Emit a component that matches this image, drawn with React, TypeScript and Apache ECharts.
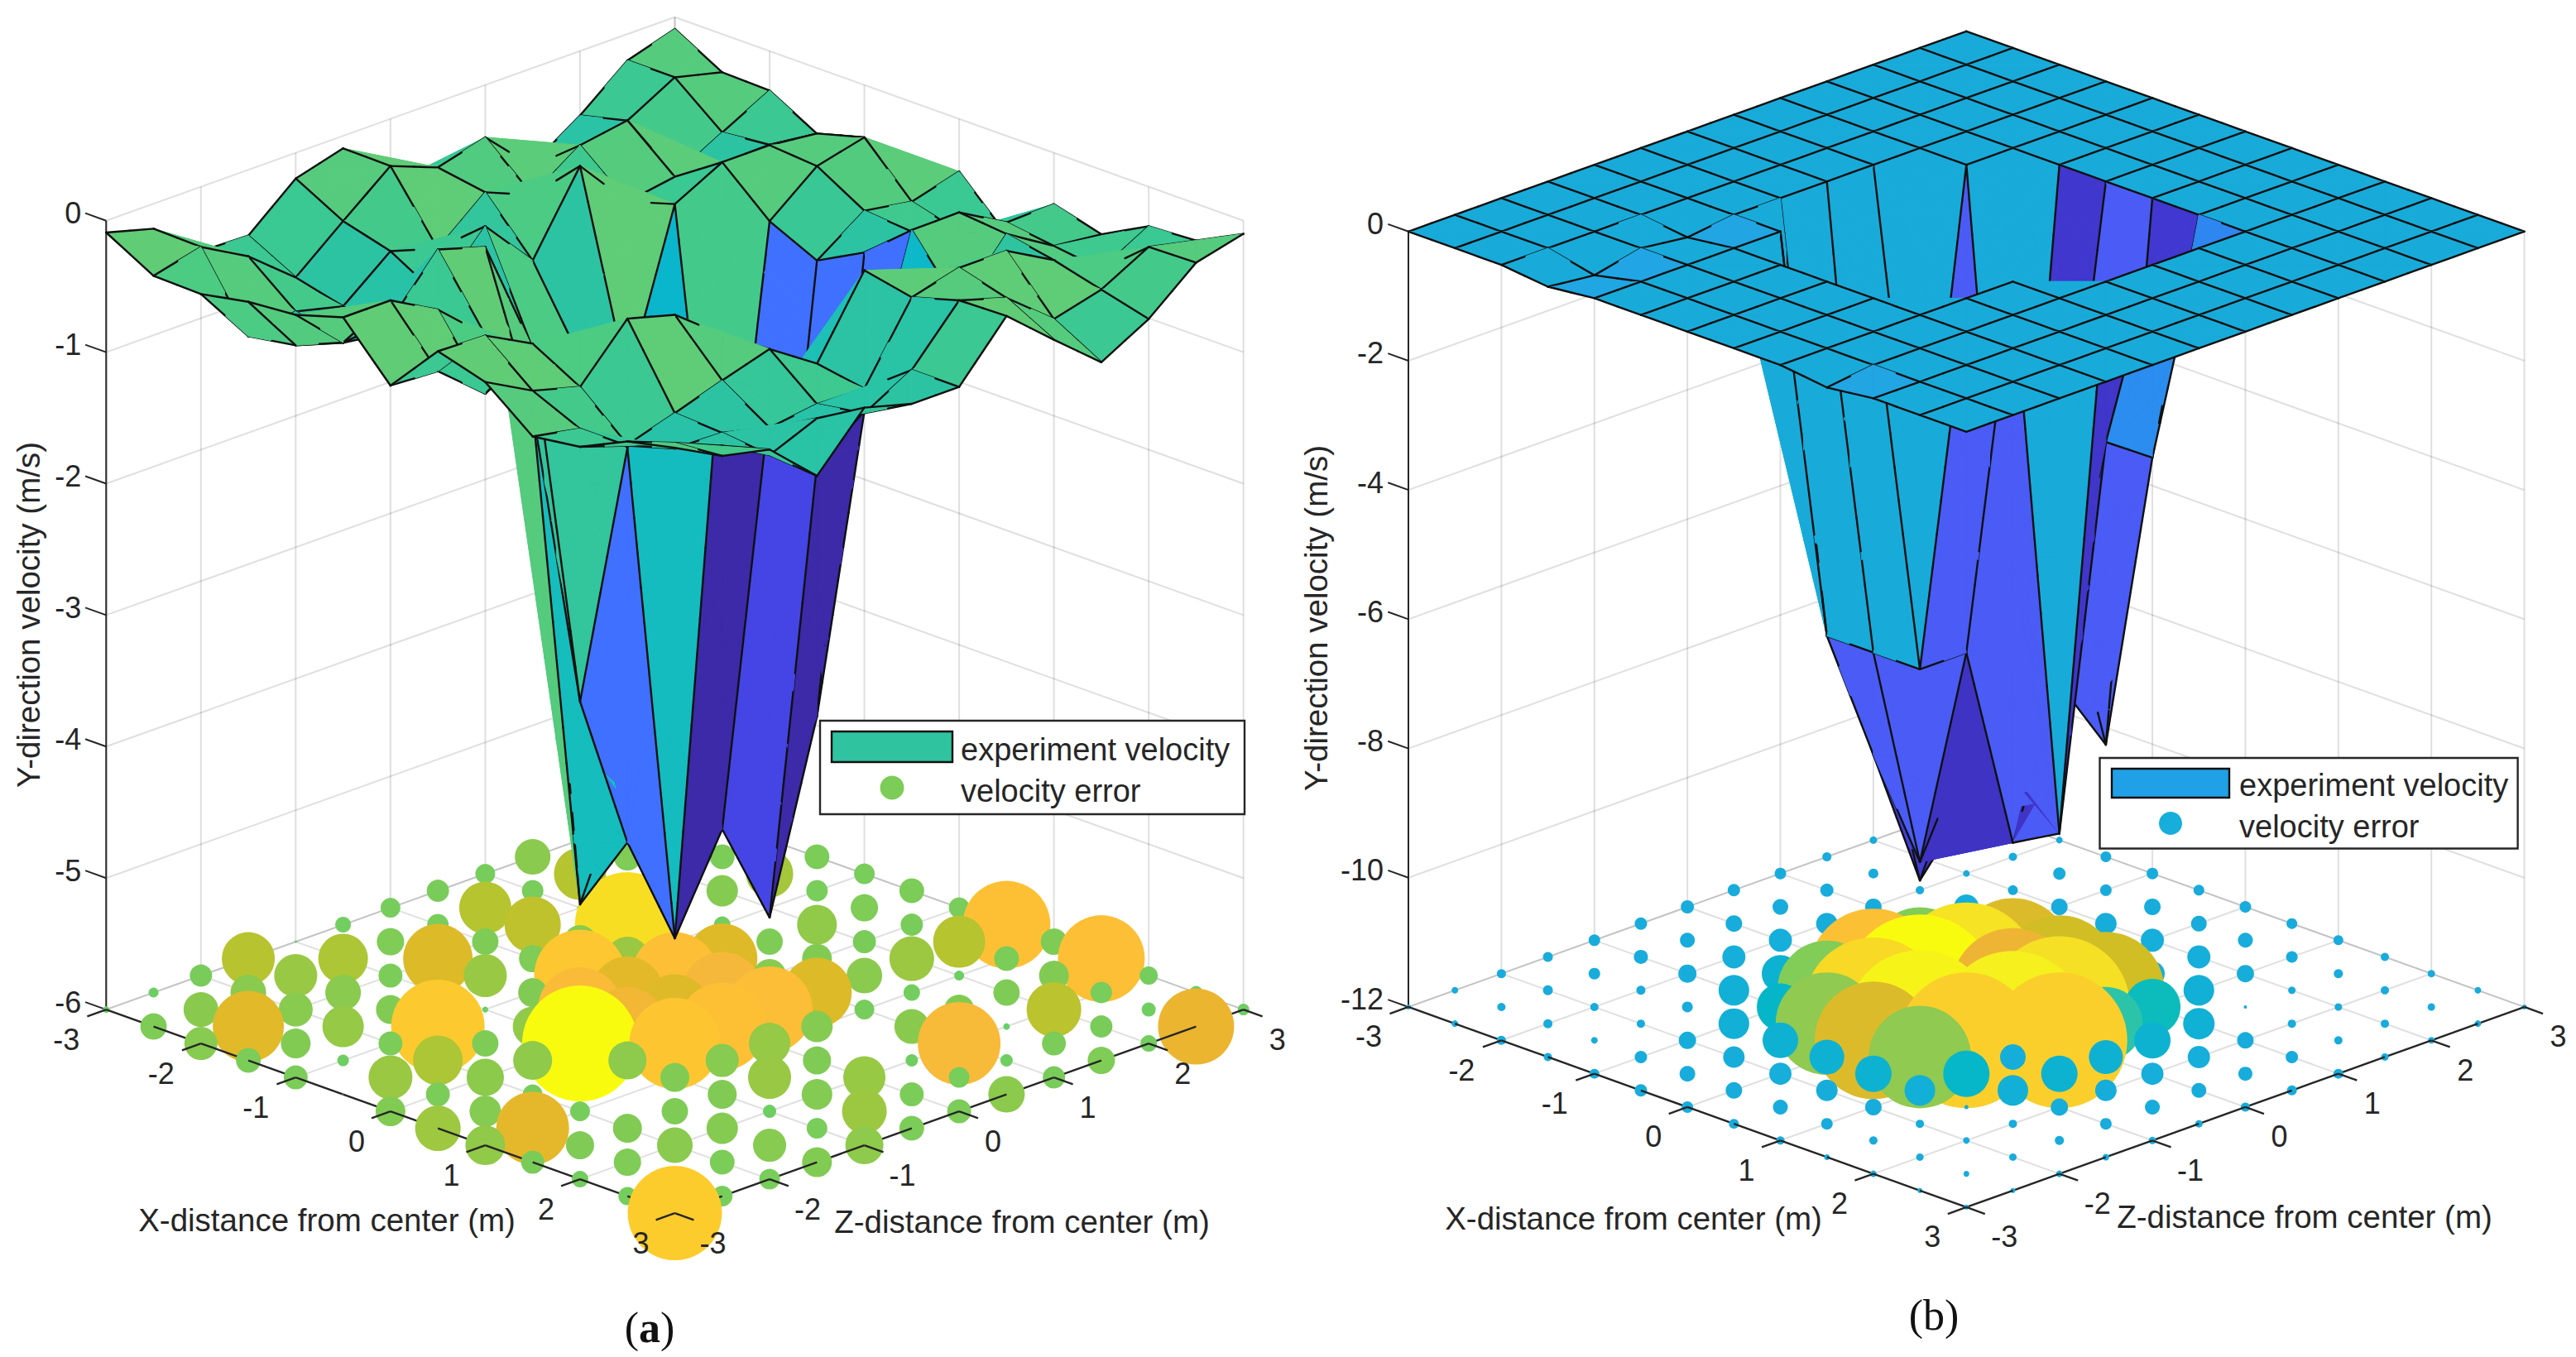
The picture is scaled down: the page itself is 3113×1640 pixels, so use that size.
import React, { useEffect, useRef } from "react";
import * as echarts from "echarts";

const FONT = '"Liberation Sans", Arial, sans-serif';
const INK = "#262626";

// ---- axis ticks ----
const horizontalTicks = [-3, -2, -1, 0, 1, 2, 3];
const verticalTicksA = [0, -1, -2, -3, -4, -5, -6];
const verticalTicksB = [0, -2, -4, -6, -8, -10, -12];
const gridCoords = [-3, -2.5, -2, -1.5, -1, -0.5, 0, 0.5, 1, 1.5, 2, 2.5, 3];

// ---- surface (a): Y velocity, rows = X index, columns = Z index ----
const velocityA = [
  [-0.09, -0.19, -0.49, -0.5, -0.195, -0.095, -0.5, -0.55, -0.55, -0.73, -0.49, -0.2, -0.09],
  [-0.29, -0.2, -0.4, -0.69, -0.39, -0.1, -0.24, -0.14, -0.49, -0.62, -0.4, -0.2, -0.29],
  [-0.3, -0.75, -0.69, -0.78, -0.49, -0.6, -0.3, -0.45, -0.2, -0.14, -0.69, -0.49, -0.3],
  [-0.23, -0.69, -0.8, -0.85, -0.7, -0.3, -0.69, -0.1, -0.5, -0.44, -0.46, -0.455, -0.5],
  [-0.2, -0.54, -0.5, -0.09, -0.2, -1.1, -1.3, -1.6, -0.39, -0.2, -0.2, -0.24, -0.4],
  [-0.09, -0.09, -0.29, -0.61, -1.31, -5.2, -4.3, -4.4, -3.5, -0.52, -0.23, -0.14, -0.76],
  [-0.48, -0.5, -0.8, -0.6, -3.4, -4.6, -4.5, -4.5, -4.0, -0.69, -0.44, -0.5, -0.4],
  [-0.09, -0.1, -0.29, -0.9, -1.34, -5.2, -4.5, -5.3, -3.9, -0.5, -0.47, -0.6, -0.75],
  [-0.195, -0.39, -0.49, -0.1, -0.2, -0.48, -1.14, -1.72, -1.45, -0.2, -0.195, -0.4, -0.39],
  [-0.48, -0.55, -0.8, -0.69, -0.57, -0.46, -0.7, -0.12, -0.3, -0.65, -0.23, -0.45, -0.49],
  [-0.43, -0.55, -0.7, -0.71, -0.8, -0.75, -0.76, -0.195, -0.1, -0.1, -0.3, -0.5, -0.3],
  [-0.26, -0.4, -0.55, -0.75, -0.6, -0.69, -0.49, -0.09, -0.2, -0.49, -0.395, -0.2, -0.28],
  [-0.18, -0.37, -0.45, -0.78, -0.39, -0.49, -0.49, -0.08, -0.39, -0.69, -0.49, -0.19, -0.1],
];

// ---- surface (b) ----
const velocityB = [
  [0, 0, 0, 0, 0, 0, 0, 0, 0, 0, 0, 0, 0],
  [0, 0, 0, 0, 0, 0, 0, 0, 0, 0, 0, 0, 0],
  [0, 0, 0, 0, 0, 0, 0, 0, 0, 0, 0, 0, 0],
  [-0.08, -0.16, 0, -0.09, 0, 0, 0, 0, 0, 0, 0, 0, 0],
  [0, 0, 0, 0, 0, -6.3, -7.6, -5.9, 0, 0, 0, 0, 0],
  [0, 0, 0, 0, -6, -8.1, -10.3, -9.4, -8.4, 0, 0, 0, 0],
  [0, 0, 0, 0, -6, -9.5, -8, -9.0, -5.6, 0, 0, 0, 0],
  [0, 0, 0, 0, -6, -6, -9.2, -7, -8.2, 0, 0, 0, 0],
  [0, 0, 0, 0, 0, 0, -8.8, -3, -3.5, 0, 0, 0, 0],
  [-0.09, 0, 0, 0, 0, 0, 0, 0, 0, 0, 0, 0, 0],
  [0, 0, 0, 0, 0, 0, 0, 0, 0, 0, 0, 0, 0],
  [0, 0, 0, 0, 0, 0, 0, 0, 0, 0, 0, 0, 0],
  [0, 0, 0, 0, 0, 0, 0, 0, 0, 0, 0, 0, 0],
];

// quads whose fold runs through their lowest-index corner instead of the higher diagonal
const cornerFoldA = ["4,4"];
const cornerFoldB = ["4,3", "6,5"];

// ---- velocity error (a): one list per screen column, back to front ----
const errorColumnsA = [
  [8],
  [12, 32],
  [27, 42, 40],
  [64, 43, 86, 30],
  [3, 52, 41, 36, 29],
  [19, 60, 43, 50, 14, 2],
  [24, 33, 29, 35, 29, 53, 36],
  [27, 26, 84, 30, 113, 60, 29, 55],
  [24, 63, 32, 52, 7, 32, 45, 38, 48],
  [43, 26, 68, 33, 35, 48, 47, 24, 88, 28],
  [20, 63, 7, 40, 111, 102, 140, 1, 24, 34, 20],
  [15, 33, 20, 127, 53, 87, 95, 46, 1, 35, 33, 22],
  [10, 15, 15, 15, 20, 105, 85, 110, 35, 32, 43, 20, 114],
  [10, 30, 38, 20, 85, 98, 106, 40, 35, 38, 30, 25],
  [20, 57, 8, 32, 40, 104, 50, 52, 16, 40, 25],
  [30, 26, 48, 36, 84, 38, 34, 37, 25, 36],
  [25, 33, 28, 43, 24, 1, 51, 54, 46],
  [30, 27, 54, 20, 42, 15, 29, 30],
  [25, 63, 12, 36, 100, 25, 29],
  [106, 30, 32, 8, 15, 44],
  [32, 36, 66, 29, 27],
  [105, 26, 27, 33],
  [22, 17, 20],
  [16, 92],
  [14],
];

// ---- velocity error (b) ----
const errorColumnsB = [
  [6],
  [8, 8],
  [11, 10, 11],
  [12, 12, 11, 10],
  [14, 14, 10, 8, 12],
  [15, 17, 11, 10, 15, 15],
  [16, 18, 22, 13, 21, 19, 14],
  [15, 20, 28, 37, 37, 26, 20, 12],
  [14, 19, 28, 45, 57, 43, 27, 18, 10],
  [11, 16, 26, 40, 120, 124, 42, 26, 14, 7],
  [9, 12, 20, 40, 157, 168, 142, 44, 20, 10, 8],
  [8, 9, 10, 30, 120, 183, 178, 124, 37, 10, 9, 6],
  [6, 8, 8, 30, 80, 172, 60, 164, 56, 5, 8, 7, 6],
  [8, 10, 12, 40, 142, 150, 176, 31, 37, 10, 9, 6],
  [8, 15, 20, 40, 141, 171, 164, 44, 21, 11, 8],
  [13, 14, 26, 40, 141, 89, 41, 26, 14, 8],
  [14, 20, 28, 30, 68, 44, 27, 18, 9],
  [13, 19, 28, 37, 38, 27, 18, 9],
  [14, 18, 21, 4, 20, 17, 11],
  [13, 14, 9, 10, 15, 12],
  [12, 11, 9, 10, 12],
  [10, 10, 10, 9],
  [9, 9, 8],
  [8, 8],
  [6],
];

// ---- colour scales (value -> colour) ----
const surfaceScaleA: [number, string][] = [
  [-5.4, "#3c2aa8"], [-5.1, "#3c2aa8"], [-4.8, "#4545e5"], [-4.45, "#4545e5"], [-4.2, "#4070ff"], [-3.2, "#4070ff"],
  [-2.2, "#0ab6cc"], [-1.5, "#0ab6cc"], [-1.25, "#19bfb8"], [-0.7, "#2bc3a4"], [-0.45, "#3ec98f"], [-0.25, "#50cb80"], [-0.05, "#64cc74"],
];
const surfaceScaleB: [number, string][] = [
  [-10.4, "#3f30bc"], [-8.15, "#4038d0"], [-7.9, "#4a5cf5"], [-4.5, "#4a5cf5"], [-3.4, "#2b8af0"], [-0.2, "#22a4e4"], [-0.05, "#20a6e3"], [-0.01, "#18abd9"], [0, "#18abd9"],
];
const errorScaleA: [number, string][] = [
  [1, "#62d06c"], [30, "#7ccc58"], [45, "#8cca4c"], [55, "#9ec840"], [63, "#b5c42f"], [85, "#dfba28"], [92, "#ecb530"],
  [98, "#f6b83a"], [106, "#fdc035"], [115, "#fccd2c"], [125, "#f8d925"], [140, "#f9fb0e"],
];
const errorScaleB: [number, string][] = [
  [4, "#19aadc"], [30, "#16aedb"], [45, "#0db2d0"], [57, "#05b6c8"], [68, "#0cbcbc"], [89, "#2cc4a8"], [120, "#82cc58"], [124, "#90ca50"],
  [141, "#d0be24"], [142, "#dcbb2a"], [150, "#eeb535"], [157, "#fcc034"], [164, "#fbcf2b"], [168, "#f8d925"], [171, "#f5e025"], [176, "#f5f01e"], [183, "#f9fb0e"],
];

function colorAt(scale: [number, string][], value: number) {
  if (value <= scale[0][0]) return scale[0][1];
  for (let k = 1; k < scale.length; k++) {
    if (value <= scale[k][0]) {
      const [a, ca] = scale[k - 1];
      const [b, cb] = scale[k];
      const t = (value - a) / (b - a || 1);
      const parse = (c: string) => [1, 3, 5].map((p) => parseInt(c.slice(p, p + 2), 16));
      const pa = parse(ca);
      const pb = parse(cb);
      return `rgb(${pa.map((v, q) => Math.round(v + (pb[q] - v) * t)).join(",")})`;
    }
  }
  return scale[scale.length - 1][1];
}

function columnsToGrid(cols: number[][]) {
  const g = gridCoords.map(() => gridCoords.map(() => 0));
  cols.forEach((col, n) => {
    const m = Math.min(n, 24 - n);
    col.forEach((val, k) => {
      const d = -m + 2 * k;
      g[(n + d) / 2][(n - d) / 2] = val;
    });
  });
  return g;
}

type Plot = {
  gridIndex: number; left: number; top: number; width: number; A: number; B: number;
  vMin: number; vTicks: number[]; velocity: number[][]; errors: number[][]; cornerFold: string[];
  surfaceScale: [number, string][]; errorScale: [number, string][];
  depthD: number; depthV: number;
};

const plots: Plot[] = [
  { gridIndex: 0, left: 128.3, top: 20.7, width: 1374.4, A: 41, B: 158.9, vMin: -6, vTicks: verticalTicksA, cornerFold: cornerFoldA,
    velocity: velocityA, errors: columnsToGrid(errorColumnsA), surfaceScale: surfaceScaleA, errorScale: errorScaleA, depthD: 53.5, depthV: 60.9 },
  { gridIndex: 1, left: 1702, top: 37.8, width: 1348.6, A: 40.33, B: 78.1, vMin: -12, vTicks: verticalTicksB, cornerFold: cornerFoldB,
    velocity: velocityB, errors: columnsToGrid(errorColumnsB), surfaceScale: surfaceScaleB, errorScale: errorScaleB, depthD: 52.4, depthV: 30 },
];

// world (X, Z, v) -> axis coordinates (u, w); the hidden axes turn those into pixels
const proj = (p: Plot, X: number, Z: number, v: number): [number, number] => [X + Z, (Z - X) * p.A + v * p.B];

type Item =
  | { kind: "line"; a: number[]; b: number[]; color: string; lw: number; cap?: string }
  | { kind: "poly"; pts: number[][]; fill: string }
  | { kind: "circle"; c: number[]; d: number; fill: string }
  | { kind: "text"; c: number[]; dx: number; dy: number; text: string; align: string };

function customSeries(p: Plot, items: Item[], z: number, name: string) {
  return {
    type: "custom", name, xAxisIndex: p.gridIndex, yAxisIndex: p.gridIndex, coordinateSystem: "cartesian2d",
    z, silent: true, clip: false, progressive: 0, animation: false,
    encode: { x: 0, y: 1 },
    data: items.map((it, k) => {
      const c = it.kind === "line" ? it.a : it.kind === "poly" ? it.pts[0] : it.c;
      return [c[0], c[1], k];
    }),
    renderItem: (params: any, api: any) => {
      const it = items[params.dataIndex];
      const z2 = params.dataIndex;
      if (it.kind === "line") {
        const a = api.coord(it.a);
        const b = api.coord(it.b);
        return { type: "line", z2, shape: { x1: a[0], y1: a[1], x2: b[0], y2: b[1] }, style: { stroke: it.color, lineWidth: it.lw, lineCap: it.cap || "butt" } };
      }
      if (it.kind === "poly") {
        return { type: "polygon", z2, shape: { points: it.pts.map((q) => api.coord(q)) }, style: { fill: it.fill, stroke: it.fill, lineWidth: 1, lineJoin: "round" } };
      }
      if (it.kind === "circle") {
        const c = api.coord(it.c);
        return { type: "circle", z2, shape: { cx: c[0], cy: c[1], r: it.d / 2 }, style: { fill: it.fill } };
      }
      const c = api.coord(it.c);
      return { type: "text", z2, x: c[0] + it.dx, y: c[1] + it.dy,
        style: { text: it.text, fill: INK, fontSize: 36, fontFamily: FONT, align: it.align, verticalAlign: "middle" } };
    },
  };
}

function frameItems(p: Plot): Item[] {
  const gc = "rgba(38,38,38,0.15)";
  const out: Item[] = [];
  const L = (a: number[], b: number[]) => out.push({ kind: "line", a, b, color: gc, lw: 2 });
  horizontalTicks.forEach((t) => {
    L(proj(p, -3, t, p.vMin), proj(p, -3, t, 0));
    L(proj(p, t, 3, p.vMin), proj(p, t, 3, 0));
    L(proj(p, t, -3, p.vMin), proj(p, t, 3, p.vMin));
    L(proj(p, -3, t, p.vMin), proj(p, 3, t, p.vMin));
  });
  p.vTicks.forEach((v) => {
    L(proj(p, -3, -3, v), proj(p, -3, 3, v));
    L(proj(p, -3, 3, v), proj(p, 3, 3, v));
  });
  out.push({ kind: "line", a: proj(p, -3, -3, p.vMin), b: proj(p, -3, -3, 0), color: INK, lw: 2 });
  p.vTicks.forEach((v) => out.push({ kind: "line", a: proj(p, -3, -3, v), b: proj(p, -3.22, -3, v), color: INK, lw: 2 }));
  return out;
}

function floorItems(p: Plot): Item[] {
  const list: { key: number; item: Item }[] = [];
  p.errors.forEach((row, i) =>
    row.forEach((val, j) => {
      list.push({ key: i - j, item: { kind: "circle", c: proj(p, gridCoords[i], gridCoords[j], p.vMin), d: val, fill: colorAt(p.errorScale, val) } });
    })
  );
  for (let s = 0; s < 12; s++) {
    list.push({ key: s + 0.5, item: { kind: "line", a: proj(p, gridCoords[s], -3, p.vMin), b: proj(p, gridCoords[s + 1], -3, p.vMin), color: INK, lw: 2.4 } });
    list.push({ key: s + 0.5, item: { kind: "line", a: proj(p, 3, gridCoords[12 - s], p.vMin), b: proj(p, 3, gridCoords[11 - s], p.vMin), color: INK, lw: 2.4 } });
  }
  horizontalTicks.forEach((t) => {
    const dx = Math.round((t + 3) * 2);
    list.push({ key: dx + 0.3, item: { kind: "line", a: proj(p, t, -3, p.vMin), b: proj(p, t, -3.2, p.vMin), color: INK, lw: 2.4 } });
    const dz = Math.round((3 - t) * 2);
    list.push({ key: dz + 0.3, item: { kind: "line", a: proj(p, 3, t, p.vMin), b: proj(p, 3.2, t, p.vMin), color: INK, lw: 2.4 } });
  });
  list.sort((a, b) => a.key - b.key);
  return list.map((l) => l.item);
}

function surfaceItems(p: Plot): Item[] {
  const list: { key: number; item: Item }[] = [];
  const depth = (q: number[]) => q[3] * p.depthD + q[2] * p.depthV;
  const pt = (i: number, j: number) => [gridCoords[i], gridCoords[j], p.velocity[i][j], i - j];
  const pxLen = (a: number[], b: number[]) => {
    const ua = proj(p, a[0], a[1], a[2]);
    const ub = proj(p, b[0], b[1], b[2]);
    return Math.hypot((ua[0] - ub[0]) * (p.width / 12), ua[1] - ub[1]);
  };
  const mid = (a: number[], b: number[]) => a.map((v, k) => (v + b[k]) / 2);
  const addTri = (a: number[], b: number[], c: number[], fill: string) => {
    const lab = pxLen(a, b), lbc = pxLen(b, c), lca = pxLen(c, a);
    const mx = Math.max(lab, lbc, lca);
    if (mx > 75) {
      if (mx === lab) { const m = mid(a, b); addTri(a, m, c, fill); addTri(m, b, c, fill); }
      else if (mx === lbc) { const m = mid(b, c); addTri(a, b, m, fill); addTri(a, m, c, fill); }
      else { const m = mid(c, a); addTri(a, b, m, fill); addTri(m, b, c, fill); }
      return;
    }
    list.push({
      key: (depth(a) + depth(b) + depth(c)) / 3,
      item: { kind: "poly", pts: [a, b, c].map((q) => proj(p, q[0], q[1], q[2])), fill },
    });
  };
  const addEdge = (a: number[], b: number[]) => {
    const n = Math.max(1, Math.ceil(pxLen(a, b) / 45));
    for (let s = 0; s < n; s++) {
      const qa = a.map((v, k) => v + ((b[k] - v) * s) / n);
      const qb = a.map((v, k) => v + ((b[k] - v) * (s + 1)) / n);
      list.push({
        key: (depth(qa) + depth(qb)) / 2 + 26,
        item: { kind: "line", a: proj(p, qa[0], qa[1], qa[2]), b: proj(p, qb[0], qb[1], qb[2]), color: "#101010", lw: 2.4, cap: "round" },
      });
    }
  };
  for (let i = 0; i < 12; i++) {
    for (let j = 0; j < 12; j++) {
      const fill = colorAt(p.surfaceScale, p.velocity[i][j]);
      const a = pt(i, j), b = pt(i + 1, j), c = pt(i + 1, j + 1), e = pt(i, j + 1);
      const cornerDiag = a[2] + c[2] >= b[2] + e[2];
      if (cornerDiag || p.cornerFold.includes(`${i},${j}`)) {
        addTri(a, b, c, fill);
        addTri(a, c, e, fill);
      } else {
        addTri(a, b, e, fill);
        addTri(b, c, e, fill);
      }
    }
  }
  for (let i = 0; i <= 12; i++) {
    for (let j = 0; j <= 12; j++) {
      if (i < 12) addEdge(pt(i, j), pt(i + 1, j));
      if (j < 12) addEdge(pt(i, j), pt(i, j + 1));
    }
  }
  list.sort((a, b) => a.key - b.key);
  return list.map((l) => l.item);
}

function labelItems(p: Plot): Item[] {
  const out: Item[] = [];
  horizontalTicks.forEach((t) => {
    out.push({ kind: "text", c: proj(p, t, -3, p.vMin), dx: t < 0 ? -48 : -41, dy: 36, text: String(t), align: "center" });
    out.push({ kind: "text", c: proj(p, 3, t, p.vMin), dx: t < 0 ? 46 : 41, dy: 36, text: String(t), align: "center" });
  });
  p.vTicks.forEach((v) => out.push({ kind: "text", c: proj(p, -3, -3, v), dx: -30, dy: -9, text: String(v), align: "right" }));
  return out;
}

const txt = (x: number, y: number, text: string, extra: any = {}, style: any = {}) => ({
  type: "text", x, y, z: 40, silent: true, ...extra,
  style: { text, fill: INK, fontSize: 38.5, fontFamily: FONT, align: "center", verticalAlign: "middle", ...style },
});

const legendBlock = (x0: number, x1: number, y0: number, y1: number, sw: number[], swFill: string, tx: number, ty1: number, ty2: number, mk: number[], mkFill: string) => [
  { type: "rect", z: 30, silent: true, shape: { x: x0, y: y0, width: x1 - x0, height: y1 - y0 }, style: { fill: "#fff", stroke: INK, lineWidth: 2.4 } },
  { type: "rect", z: 31, silent: true, shape: { x: sw[0], y: sw[1], width: sw[2], height: sw[3] }, style: { fill: swFill, stroke: "#101010", lineWidth: 2.4 } },
  { type: "circle", z: 31, silent: true, shape: { cx: mk[0], cy: mk[1], r: mk[2] }, style: { fill: mkFill } },
  txt(tx, ty1, "experiment velocity", {}, { align: "left", fontSize: 38 }),
  txt(tx, ty2, "velocity error", {}, { align: "left", fontSize: 38 }),
];

const caption = (x: number, y: number, letter: string, bold: boolean) => ({
  type: "text", x, y, z: 40, silent: true,
  style: {
    text: `{n|(}{l|${letter}}{n|)}`, align: "center", verticalAlign: "middle",
    rich: {
      n: { fontFamily: '"Liberation Serif", serif', fontSize: 52, fill: "#111" },
      l: { fontFamily: '"Liberation Serif", serif', fontSize: 52, fontWeight: bold ? "bold" : "normal", fill: "#111" },
    },
  },
});

export default function App() {
  const ref = useRef<HTMLDivElement>(null);
  useEffect(() => {
    document.body.style.margin = "0";
    const chart = echarts.init(ref.current!, undefined, { renderer: "svg" });
    const series: any[] = [];
    plots.forEach((p) => {
      series.push(customSeries(p, frameItems(p), 2, "frame"));
      series.push(customSeries(p, floorItems(p), 3, "velocity error"));
      series.push(customSeries(p, surfaceItems(p), 4, "experiment velocity"));
      series.push(customSeries(p, labelItems(p), 5, "tick labels"));
    });
    chart.setOption({
      animation: false,
      backgroundColor: "#fff",
      grid: plots.map((p) => ({
        left: p.left, top: p.top, width: p.width,
        height: 2 * 6 * p.A + -p.vMin * p.B, containLabel: false,
      })),
      xAxis: plots.map((p) => ({ type: "value", gridIndex: p.gridIndex, min: -6, max: 6, show: false })),
      yAxis: plots.map((p) => ({ type: "value", gridIndex: p.gridIndex, min: -6 * p.A + p.vMin * p.B, max: 6 * p.A, show: false })),
      series,
      graphic: {
        elements: [
          txt(395, 1474, "X-distance from center (m)"),
          txt(1235, 1476, "Z-distance from center (m)"),
          txt(1974, 1472, "X-distance from center (m)"),
          txt(2785, 1470, "Z-distance from center (m)"),
          txt(34, 743, "Y-direction velocity (m/s)", { rotation: Math.PI / 2 }),
          txt(1590, 747, "Y-direction velocity (m/s)", { rotation: Math.PI / 2 }),
          ...legendBlock(991, 1504, 871, 984, [1005, 884, 146, 37], "#2fc3a0", 1161, 906, 956, [1078, 952, 14.5], "#7ccc58"),
          ...legendBlock(2537.5, 3042.6, 916, 1025.5, [2552, 929, 142, 35], "#20a0e6", 2706, 949, 999, [2623, 995, 14], "#16aedb"),
          caption(785, 1604, "a", true),
          caption(2337, 1589, "b", false),
        ],
      },
    });
    return () => chart.dispose();
  }, []);
  return <div ref={ref} style={{ position: "absolute", left: 0, top: 0, width: 3113, height: 1640, background: "#fff" }} />;
}
